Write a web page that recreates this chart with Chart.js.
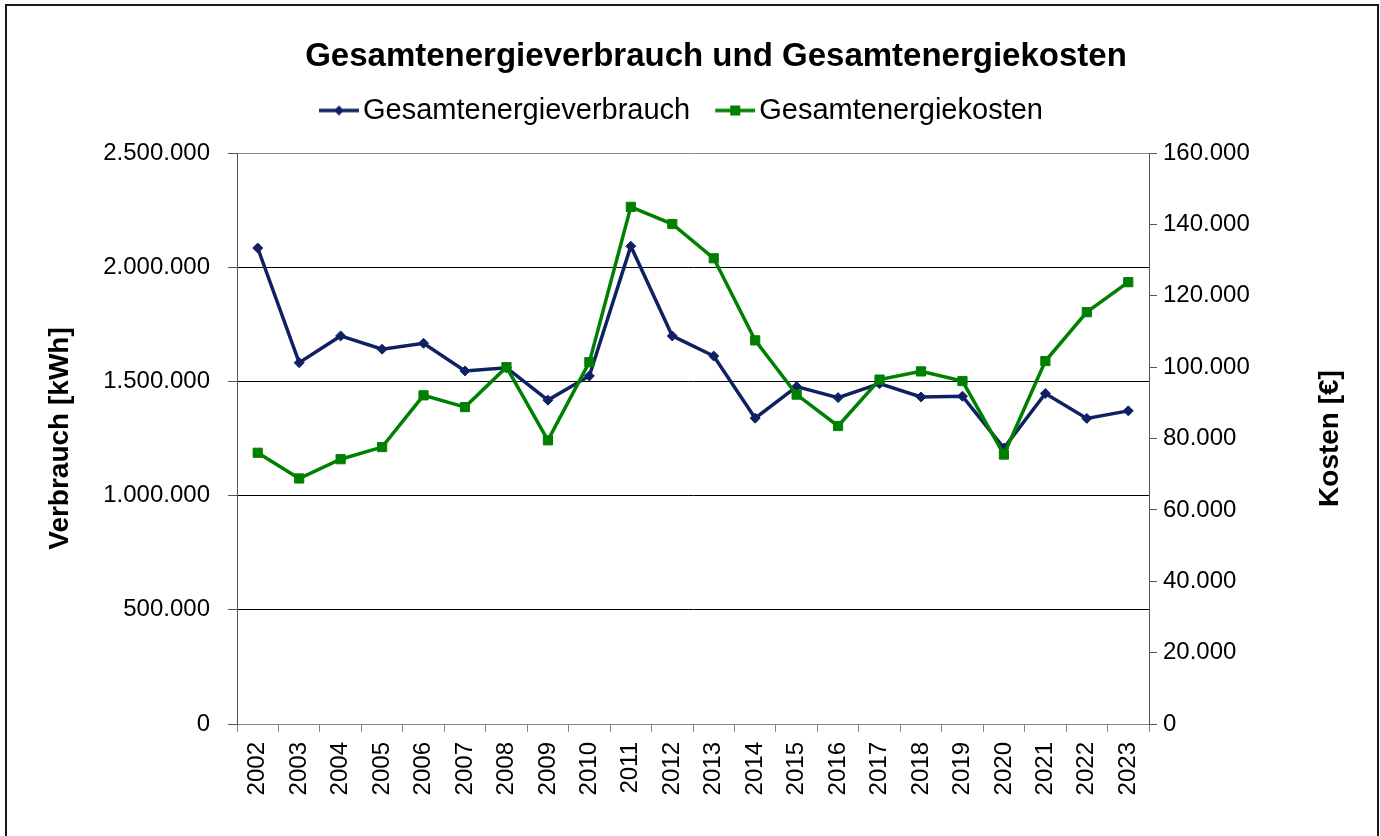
<!DOCTYPE html>
<html>
<head>
<meta charset="utf-8">
<script src="https://cdn.jsdelivr.net/npm/chart.js@4.4.1/dist/chart.umd.min.js"></script>
<style>
  html, body { margin: 0; padding: 0; background: #fff; }
  canvas { display: block; }
</style>
</head>
<body>
<canvas id="c" width="1380" height="836"></canvas>
<script>
const years = ['2002','2003','2004','2005','2006','2007','2008','2009','2010','2011','2012','2013','2014','2015','2016','2017','2018','2019','2020','2021','2022','2023'];
const verbrauch = [2084000, 1582000, 1699000, 1641000, 1667000, 1546000, 1560000, 1418000, 1524000, 2092000, 1699000, 1611000, 1339000, 1477000, 1429000, 1490000, 1432000, 1435000, 1208000, 1447000, 1338000, 1371000];
const kosten = [76000, 68800, 74200, 77600, 92100, 88800, 100000, 79500, 101400, 144900, 140100, 130500, 107500, 92300, 83500, 96500, 98800, 96100, 75500, 101700, 115400, 123800];
const leftTicks = [0, 500000, 1000000, 1500000, 2000000, 2500000];
const rightTicks = [0, 20000, 40000, 60000, 80000, 100000, 120000, 140000, 160000];

const NAVY = '#0E2162';
const GREEN = '#008000';
const FONT = '"Liberation Sans", Arial, sans-serif';

function fmt(v) { return String(v).replace(/\B(?=(\d{3})+(?!\d))/g, '.'); }

function legendImage(color, kind) {
  const c = document.createElement('canvas');
  c.width = 61; c.height = 14;
  const x = c.getContext('2d');
  x.strokeStyle = color; x.fillStyle = color; x.lineWidth = 3.5;
  x.beginPath(); x.moveTo(21, 7); x.lineTo(61, 7); x.stroke();
  if (kind === 'diamond') {
    x.beginPath(); x.moveTo(41, 2); x.lineTo(46, 7); x.lineTo(41, 12); x.lineTo(36, 7); x.closePath(); x.fill();
  } else {
    x.fillRect(36, 2, 10, 10);
  }
  return c;
}
const legendImgs = [legendImage(NAVY, 'diamond'), legendImage(GREEN, 'square')];

const framePlugin = {
  id: 'frame',
  afterLayout(chart) {
    if (chart.titleBlock) { chart.titleBlock.left += 26; chart.titleBlock.right += 26; }
    if (chart.legend) { chart.legend.left = 319 - 10.5 - 14.5; }
  },
  afterDraw(chart) {
    const ctx = chart.ctx;
    ctx.save();
    ctx.strokeStyle = '#1a1a1a';
    ctx.lineWidth = 2;
    ctx.strokeRect(6, 5, 1372, 900);
    const a = chart.chartArea;
    ctx.translate(1330, (a.top + a.bottom) / 2);
    ctx.rotate(-Math.PI / 2);
    ctx.fillStyle = '#000';
    ctx.font = 'bold 28px ' + FONT;
    ctx.textAlign = 'center';
    ctx.textBaseline = 'middle';
    ctx.fillText('Kosten [€]', 0, 0);
    ctx.restore();
  }
};

new Chart(document.getElementById('c'), {
  type: 'line',
  data: {
    labels: years,
    datasets: [
      {
        label: 'Gesamtenergieverbrauch',
        data: verbrauch,
        yAxisID: 'y',
        borderColor: NAVY,
        backgroundColor: NAVY,
        borderWidth: 3.5,
        pointStyle: 'rectRot',
        pointRadius: 5,
        pointBorderWidth: 1,
        tension: 0,
        order: 1
      },
      {
        label: 'Gesamtenergiekosten',
        data: kosten,
        yAxisID: 'y1',
        borderColor: GREEN,
        backgroundColor: GREEN,
        borderWidth: 3.5,
        pointStyle: 'rect',
        pointRadius: 6.5,
        pointBorderWidth: 1,
        tension: 0,
        order: 0
      }
    ]
  },
  options: {
    responsive: false,
    animation: false,
    layout: { padding: 0 },
    plugins: {
      tooltip: { enabled: false },
      title: {
        display: true,
        text: 'Gesamtenergieverbrauch und Gesamtenergiekosten',
        color: '#000',
        font: { family: FONT, size: 33, weight: 'bold', lineHeight: 1.2 },
        padding: { top: 37.5, bottom: 4.4 }
      },
      legend: {
        display: true,
        position: 'top',
        align: 'start',
        labels: {
          usePointStyle: true,
          pointStyleWidth: 40,
          padding: 14.5,
          color: '#000',
          font: { family: FONT, size: 29 },
          sort: (a, b) => a.datasetIndex - b.datasetIndex,
          generateLabels(chart) {
            const items = Chart.defaults.plugins.legend.labels.generateLabels(chart);
            items.forEach(it => { it.pointStyle = legendImgs[it.datasetIndex]; });
            return items;
          }
        }
      },
      subtitle: {
        display: true,
        text: '',
        weight: 500,
        font: { size: 10, lineHeight: 1 },
        padding: { top: 8, bottom: 0 }
      }
    },
    scales: {
      x: {
        offset: true,
        grid: { drawOnChartArea: false, drawTicks: true, tickLength: 8, color: '#888', offset: true },
        border: { display: true, color: '#888', width: 1 },
        ticks: {
          color: '#000',
          font: { family: FONT, size: 24 },
          minRotation: 90,
          maxRotation: 90,
          padding: 10,
          autoSkip: false
        },
        afterFit(s) { s.height = 112; }
      },
      y: {
        position: 'left',
        min: leftTicks[0],
        max: leftTicks[leftTicks.length - 1],
        afterBuildTicks(s) { s.ticks = leftTicks.map(v => ({ value: v })); },
        grid: {
          drawOnChartArea: true,
          drawTicks: true,
          tickLength: 9,
          color: ctx => (ctx.tick && ctx.tick.value === leftTicks[leftTicks.length - 1]) ? '#888' : '#000',
          tickColor: '#555',
          lineWidth: 1
        },
        border: { display: true, color: '#555', width: 1 },
        ticks: {
          color: '#000',
          font: { family: FONT, size: 24 },
          padding: 18,
          callback: v => fmt(v)
        },
        title: {
          display: true,
          text: 'Verbrauch [kWh]',
          color: '#000',
          font: { family: FONT, size: 28, weight: 'bold', lineHeight: 1.2 },
          padding: { top: 43, bottom: 0 }
        },
        afterFit(s) { s.width = 237; }
      },
      y1: {
        position: 'right',
        min: rightTicks[0],
        max: rightTicks[rightTicks.length - 1],
        afterBuildTicks(s) { s.ticks = rightTicks.map(v => ({ value: v })); },
        grid: { drawOnChartArea: false, drawTicks: true, tickLength: 8, tickColor: '#555' },
        border: { display: true, color: '#555', width: 1 },
        ticks: {
          color: '#000',
          font: { family: FONT, size: 24 },
          padding: 6,
          callback: v => fmt(v)
        },
        afterFit(s) { s.width = 231; }
      }
    }
  },
  plugins: [framePlugin]
});
</script>
</body>
</html>
